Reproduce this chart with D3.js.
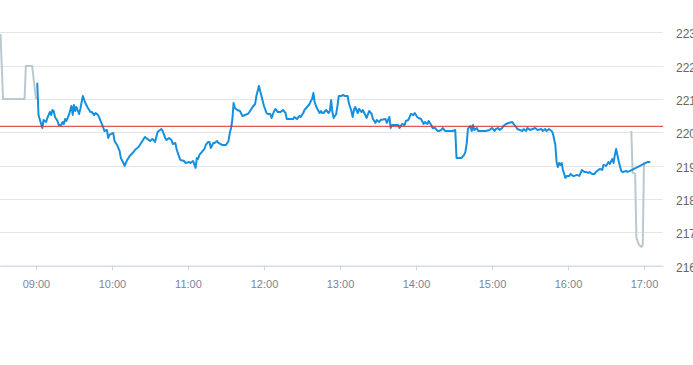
<!DOCTYPE html>
<html>
<head>
<meta charset="utf-8">
<script src="https://cdn.jsdelivr.net/npm/d3@7"></script>
<style>
  body { margin: 0; background: #fff; }
  svg { display: block; font-family: "Liberation Sans", Arial, sans-serif; }
</style>
</head>
<body>
<svg id="chart"></svg>
<script>
//////////////////////////////////////////////////////////////////////////////
// Data

var preMarket = [
    ["08:32", 222.95], ["08:34", 221.00], ["08:51", 221.00], ["08:52", 221.99],
    ["08:57", 221.99], ["09:00", 221.00]
];

var regular = [
    ["09:01", 221.49], ["09:02", 220.52], ["09:05", 220.13], ["09:06", 220.37],
    ["09:08", 220.31], ["09:09", 220.43], ["09:11", 220.61], ["09:12", 220.52],
    ["09:13", 220.67], ["09:14", 220.64], ["09:15", 220.46], ["09:17", 220.34],
    ["09:18", 220.22], ["09:20", 220.22], ["09:21", 220.31], ["09:22", 220.25],
    ["09:23", 220.40], ["09:24", 220.34], ["09:26", 220.52], ["09:28", 220.79],
    ["09:29", 220.52], ["09:30", 220.82], ["09:31", 220.64], ["09:32", 220.76],
    ["09:34", 220.55], ["09:35", 220.70], ["09:37", 221.09], ["09:39", 220.88],
    ["09:41", 220.73], ["09:43", 220.61], ["09:44", 220.61], ["09:46", 220.52],
    ["09:47", 220.58], ["09:49", 220.52], ["09:51", 220.34], ["09:53", 220.16],
    ["09:54", 220.04], ["09:56", 220.07], ["09:57", 219.83], ["09:58", 219.92],
    ["10:01", 219.98], ["10:02", 219.74], ["10:04", 219.62], ["10:06", 219.44],
    ["10:07", 219.23], ["10:09", 219.08], ["10:10", 218.99], ["10:12", 219.17],
    ["10:14", 219.29], ["10:17", 219.41], ["10:19", 219.50], ["10:21", 219.56],
    ["10:24", 219.74], ["10:26", 219.86], ["10:28", 219.80], ["10:30", 219.74],
    ["10:32", 219.80], ["10:34", 219.71], ["10:36", 220.01], ["10:39", 220.10],
    ["10:40", 220.04], ["10:42", 219.83], ["10:43", 219.77], ["10:45", 219.83],
    ["10:47", 219.77], ["10:48", 219.65], ["10:50", 219.68], ["10:51", 219.50],
    ["10:53", 219.26], ["10:54", 219.17], ["10:57", 219.14], ["10:58", 219.08],
    ["11:01", 219.11], ["11:02", 219.08], ["11:04", 219.14], ["11:06", 218.93],
    ["11:07", 219.23], ["11:08", 219.20], ["11:09", 219.32], ["11:11", 219.41],
    ["11:13", 219.50], ["11:14", 219.62], ["11:16", 219.71], ["11:17", 219.71],
    ["11:18", 219.53], ["11:20", 219.68], ["11:21", 219.68], ["11:23", 219.74],
    ["11:24", 219.68], ["11:27", 219.62], ["11:30", 219.62], ["11:32", 219.74],
    ["11:33", 219.98], ["11:34", 220.13], ["11:35", 220.37], ["11:36", 220.88],
    ["11:37", 220.73], ["11:39", 220.67], ["11:41", 220.64], ["11:43", 220.49],
    ["11:45", 220.52], ["11:47", 220.55], ["11:48", 220.58], ["11:50", 220.70],
    ["11:51", 220.76], ["11:53", 220.85], ["11:54", 221.09], ["11:56", 221.39],
    ["11:58", 221.09], ["12:00", 220.79], ["12:02", 220.58], ["12:03", 220.55],
    ["12:05", 220.55], ["12:06", 220.43], ["12:08", 220.64], ["12:09", 220.70],
    ["12:11", 220.61], ["12:13", 220.61], ["12:15", 220.67], ["12:17", 220.58],
    ["12:18", 220.40], ["12:20", 220.40], ["12:23", 220.40], ["12:24", 220.46],
    ["12:26", 220.40], ["12:28", 220.49], ["12:29", 220.46], ["12:31", 220.58],
    ["12:32", 220.67], ["12:34", 220.76], ["12:36", 220.85], ["12:37", 220.94],
    ["12:38", 221.00], ["12:39", 221.18], ["12:40", 220.91], ["12:41", 220.79],
    ["12:43", 220.64], ["12:44", 220.58], ["12:45", 220.64], ["12:46", 220.58],
    ["12:47", 220.58], ["12:49", 220.67], ["12:51", 220.58], ["12:52", 220.64],
    ["12:53", 220.97], ["12:54", 220.61], ["12:55", 220.43], ["12:57", 220.55],
    ["12:58", 220.79], ["12:59", 221.09], ["13:01", 221.09], ["13:02", 221.12],
    ["13:04", 221.09], ["13:06", 221.09], ["13:07", 220.88], ["13:09", 220.64],
    ["13:10", 220.46], ["13:11", 220.67], ["13:12", 220.76], ["13:14", 220.58],
    ["13:15", 220.70], ["13:17", 220.61], ["13:18", 220.67], ["13:20", 220.52],
    ["13:21", 220.43], ["13:23", 220.64], ["13:25", 220.55], ["13:26", 220.40],
    ["13:28", 220.28], ["13:29", 220.37], ["13:31", 220.31], ["13:32", 220.37],
    ["13:36", 220.40], ["13:37", 220.28], ["13:39", 220.46], ["13:40", 220.13],
    ["13:41", 220.22], ["13:44", 220.22], ["13:46", 220.22], ["13:47", 220.13],
    ["13:49", 220.25], ["13:51", 220.22], ["13:52", 220.34], ["13:54", 220.37],
    ["13:55", 220.46], ["13:56", 220.55], ["13:58", 220.52], ["13:59", 220.58],
    ["14:01", 220.46], ["14:02", 220.43], ["14:04", 220.40], ["14:06", 220.25],
    ["14:07", 220.31], ["14:09", 220.25], ["14:10", 220.34], ["14:12", 220.22],
    ["14:13", 220.13], ["14:15", 220.13], ["14:17", 220.04], ["14:18", 220.04],
    ["14:20", 220.07], ["14:21", 220.13], ["14:23", 220.04], ["14:29", 220.04],
    ["14:31", 220.07], ["14:32", 219.23], ["14:36", 219.23], ["14:38", 219.32],
    ["14:39", 219.41], ["14:40", 219.65], ["14:41", 220.10], ["14:42", 220.16],
    ["14:43", 220.19], ["14:44", 220.04], ["14:45", 220.22], ["14:46", 220.07],
    ["14:48", 220.13], ["14:49", 220.04], ["14:50", 220.04], ["14:55", 220.04],
    ["14:58", 220.07], ["15:00", 220.13], ["15:02", 220.04], ["15:03", 220.10],
    ["15:05", 220.13], ["15:06", 220.07], ["15:08", 220.13], ["15:09", 220.19],
    ["15:11", 220.25], ["15:13", 220.28], ["15:16", 220.31], ["15:17", 220.25],
    ["15:19", 220.16], ["15:20", 220.10], ["15:22", 220.07], ["15:24", 220.04],
    ["15:25", 220.10], ["15:27", 220.04], ["15:28", 220.13], ["15:30", 220.07],
    ["15:32", 220.10], ["15:34", 220.13], ["15:36", 220.07], ["15:39", 220.10],
    ["15:40", 220.04], ["15:42", 220.10], ["15:43", 220.04], ["15:45", 220.10],
    ["15:47", 220.04], ["15:48", 219.98], ["15:50", 219.62], ["15:51", 219.11],
    ["15:52", 218.96], ["15:53", 219.08], ["15:54", 219.02], ["15:55", 219.08],
    ["15:56", 218.87], ["15:58", 218.63], ["15:59", 218.69], ["16:01", 218.69],
    ["16:02", 218.75], ["16:04", 218.69], ["16:05", 218.69], ["16:07", 218.72],
    ["16:09", 218.69], ["16:10", 218.78], ["16:11", 218.87], ["16:13", 218.81],
    ["16:14", 218.81], ["16:16", 218.78], ["16:17", 218.81], ["16:19", 218.75],
    ["16:21", 218.75], ["16:22", 218.81], ["16:24", 218.87], ["16:25", 218.90],
    ["16:27", 218.87], ["16:28", 219.02], ["16:30", 218.99], ["16:32", 219.11],
    ["16:33", 219.05], ["16:35", 219.20], ["16:36", 219.08], ["16:37", 219.32],
    ["16:38", 219.50], ["16:39", 219.32], ["16:40", 219.14], ["16:41", 218.99],
    ["16:42", 218.84], ["16:43", 218.81], ["16:46", 218.84], ["16:47", 218.81],
    ["16:49", 218.84], ["17:03", 219.11], ["17:05", 219.11]
];

var postMarket = [
    ["16:50", 220.04], ["16:51", 218.78], ["16:53", 218.75], ["16:54", 216.83],
    ["16:56", 216.62], ["16:58", 216.56], ["16:59", 216.62], ["17:00", 219.11]
];

var previousClose = 220.18;

var yTicks = [216, 217, 218, 219, 220, 221, 222, 223];
var xTicks = ["09:00", "10:00", "11:00", "12:00", "13:00", "14:00", "15:00", "16:00", "17:00"];

//////////////////////////////////////////////////////////////////////////////
// Setup

var width = 693, height = 365;
var plotRight = 663, plotBottom = 265.5;

var parseTime = d3.timeParse("%H:%M:%S");
function t(s) { return parseTime(s.length === 5 ? s + ":00" : s); }

var xScale = d3.scaleTime()
    .domain([t("08:31:36"), t("17:15:00")])
    .range([0, plotRight]);

var yScale = d3.scaleLinear()
    .domain([216, 223])
    .range([plotBottom, plotBottom - 7 * 33.3]);

var svg = d3.select("#chart")
    .attr("width", width)
    .attr("height", height);

var line = d3.line()
    .x(function(d) { return xScale(t(d[0])); })
    .y(function(d) { return yScale(d[1]); });

//////////////////////////////////////////////////////////////////////////////
// Grid and axes

svg.append("g")
    .selectAll("line")
    .data(yTicks)
    .enter()
    .append("line")
    .attr("x1", 0)
    .attr("x2", plotRight)
    .attr("y1", function(d) { return Math.round(yScale(d)) + 0.5; })
    .attr("y2", function(d) { return Math.round(yScale(d)) + 0.5; })
    .attr("stroke", "#e6e6e6")
    .attr("stroke-width", 1);

svg.append("g")
    .selectAll("text")
    .data(yTicks)
    .enter()
    .append("text")
    .attr("x", 676)
    .attr("y", function(d) { return yScale(d) + 6; })
    .attr("fill", "#666666")
    .attr("font-size", "12px")
    .text(function(d) { return d; });

var xAxis = d3.axisBottom(xScale)
    .tickValues(xTicks.map(t))
    .tickFormat(d3.timeFormat("%H:%M"))
    .tickSize(5)
    .tickSizeOuter(0);

var xg = svg.append("g")
    .attr("transform", "translate(0," + (Math.round(plotBottom) - 0.5) + ")")
    .call(xAxis);

xg.select(".domain").attr("stroke", "#ccd6eb");
xg.selectAll(".tick line").attr("stroke", "#ccd6eb");
xg.selectAll(".tick text")
    .attr("fill", "#7a8594")
    .attr("font-size", "11px")
    .attr("font-family", "\"Liberation Sans\", Arial, sans-serif")
    .attr("dy", "1.3em");

//////////////////////////////////////////////////////////////////////////////
// Series

svg.append("path")
    .datum(preMarket)
    .attr("d", line)
    .attr("fill", "none")
    .attr("stroke", "#bcc8d0")
    .attr("stroke-width", 2);

svg.append("path")
    .datum(postMarket)
    .attr("d", line)
    .attr("fill", "none")
    .attr("stroke", "#bcc8d0")
    .attr("stroke-width", 2);

svg.append("path")
    .datum(regular)
    .attr("d", line)
    .attr("fill", "none")
    .attr("stroke", "#168fdf")
    .attr("stroke-width", 2)
    .attr("stroke-linejoin", "round");

svg.append("line")
    .attr("x1", 0)
    .attr("x2", plotRight)
    .attr("y1", yScale(previousClose))
    .attr("y2", yScale(previousClose))
    .attr("stroke", "#d62d2d")
    .attr("stroke-width", 1);
</script>
</body>
</html>
